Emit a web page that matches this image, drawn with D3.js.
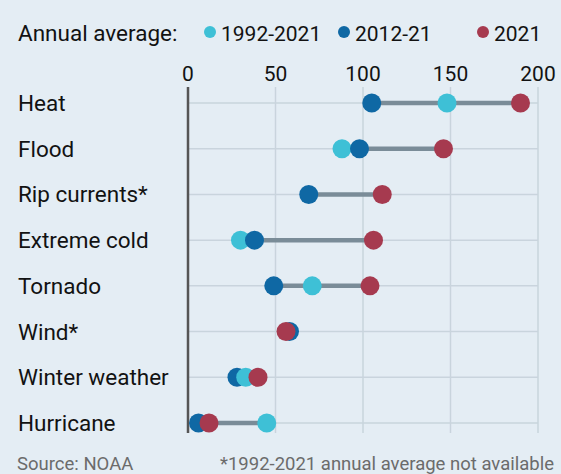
<!DOCTYPE html>
<meta charset="utf-8">
<style>
    body { margin: 0; background: #e4edf4; }
    svg { display: block; background-color: #e4edf4; font-family: Roboto, sans-serif; }
    .grid { stroke: #c9d4dd; stroke-width: 1.5; }
    .lbl { fill: #121212; font-size: 22.5px; }
    .num { fill: #121212; font-size: 21px; }
    .note { fill: #6b6b6b; font-size: 18.5px; }
</style>
<body>
<script src="https://d3js.org/d3.v7.min.js"></script>
<script>
    var width = 561,
        height = 474;

    var causes = ['Heat', 'Flood', 'Rip currents*', 'Extreme cold', 'Tornado', 'Wind*', 'Winter weather', 'Hurricane'];
    // annual average deaths; null = not available
    var avg30 = [148, 88, null, 30, 71, null, 33, 45];      // 1992-2021
    var avg10 = [105, 98, 69, 38, 49, 58, 28, 6];           // 2012-21
    var yr2021 = [190, 146, 111, 106, 104, 56, 40, 12];     // 2021
    var ticks = [0, 50, 100, 150, 200];

    var colors = { avg30: '#3ec0d6', avg10: '#0f68a4', yr2021: '#a63a4f' };

    var svg = d3.select('body').append('svg')
        .attr('width', width)
        .attr('height', height);

    var x = d3.scaleLinear().domain([0, 200]).range([188, 538]);
    var y = d3.scalePoint().domain(causes).range([103, 423]);

    // legend
    var legend = svg.append('g');
    legend.append('text').attr('class', 'lbl').attr('x', 18).attr('y', 41).text('Annual average:');
    var items = [
        { key: 'avg30', name: '1992-2021', cx: 210 },
        { key: 'avg10', name: '2012-21', cx: 344 },
        { key: 'yr2021', name: '2021', cx: 483 }
    ];
    items.forEach(function (it) {
        legend.append('circle').attr('cx', it.cx).attr('cy', 32).attr('r', 6).attr('fill', colors[it.key]);
        legend.append('text').attr('class', 'num').attr('x', it.cx + 11).attr('y', 41).text(it.name);
    });

    // grid
    svg.selectAll('.vgrid')
        .data(ticks.slice(1))
        .enter().append('line')
        .attr('class', 'grid')
        .attr('x1', x).attr('x2', x)
        .attr('y1', 87).attr('y2', 433);

    svg.selectAll('.hgrid')
        .data(causes)
        .enter().append('line')
        .attr('class', 'grid')
        .attr('x1', x(0)).attr('x2', x(200))
        .attr('y1', y).attr('y2', y);

    svg.append('line')
        .attr('x1', x(0)).attr('x2', x(0))
        .attr('y1', 87).attr('y2', 433)
        .attr('stroke', '#555')
        .attr('stroke-width', 2.5);

    // tick labels
    svg.selectAll('.tick')
        .data(ticks)
        .enter().append('text')
        .attr('class', 'num')
        .attr('x', x)
        .attr('y', 81)
        .attr('text-anchor', 'middle')
        .text(function (d) { return d; });

    // row labels
    svg.selectAll('.row')
        .data(causes)
        .enter().append('text')
        .attr('class', 'lbl')
        .attr('x', 18)
        .attr('y', function (d) { return y(d) + 8; })
        .text(function (d) { return d; });

    // rows
    var rows = causes.map(function (c, i) {
        var pts = [];
        if (avg30[i] != null) pts.push({ key: 'avg30', v: avg30[i] });
        pts.push({ key: 'avg10', v: avg10[i] });
        pts.sort(function (a, b) { return a.v - b.v; });
        pts.push({ key: 'yr2021', v: yr2021[i] });
        return { cause: c, pts: pts };
    });

    svg.selectAll('.range')
        .data(rows)
        .enter().append('line')
        .attr('x1', function (d) { return x(d3.min(d.pts, function (p) { return p.v; })); })
        .attr('x2', function (d) { return x(d3.max(d.pts, function (p) { return p.v; })); })
        .attr('y1', function (d) { return y(d.cause); })
        .attr('y2', function (d) { return y(d.cause); })
        .attr('stroke', '#7a8c98')
        .attr('stroke-width', 4.5);

    var g = svg.selectAll('.dots')
        .data(rows)
        .enter().append('g')
        .attr('transform', function (d) { return 'translate(0,' + y(d.cause) + ')'; });

    g.selectAll('circle')
        .data(function (d) { return d.pts; })
        .enter().append('circle')
        .attr('cx', function (p) { return x(p.v); })
        .attr('cy', 0)
        .attr('r', 9.5)
        .attr('fill', function (p) { return colors[p.key]; });

    // footer
    svg.append('text').attr('class', 'note').attr('x', 17).attr('y', 470).text('Source: NOAA');
    svg.append('text').attr('class', 'note').attr('x', 554).attr('y', 470)
        .attr('text-anchor', 'end')
        .text('*1992-2021 annual average not available');
</script>
</body>
